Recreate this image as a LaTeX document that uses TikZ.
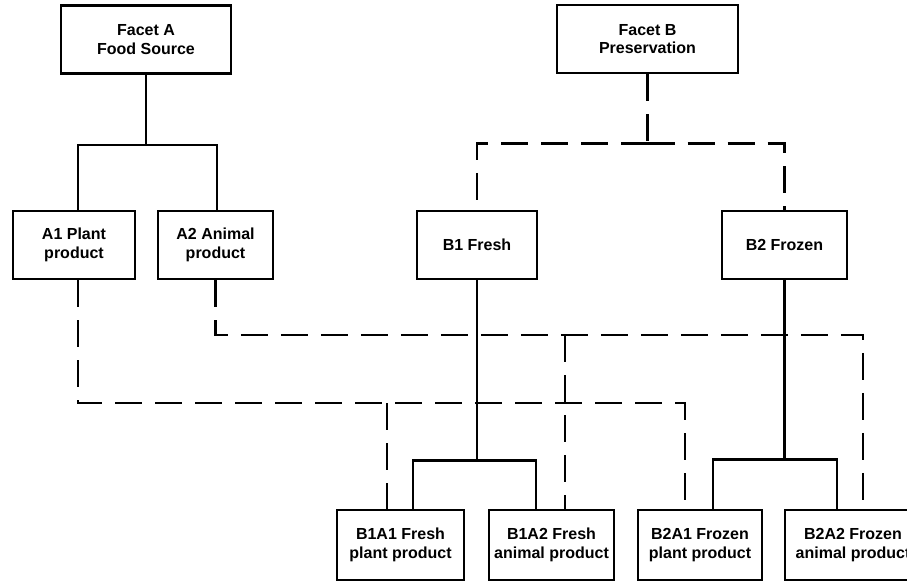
\documentclass[tikz,border=0pt]{standalone}
\usepackage{fontspec}
\setmainfont{Liberation Sans}
\begin{document}
\begin{tikzpicture}[x=1pt,y=-1pt,
  box/.style={draw, rectangle, line width=2.6pt, inner sep=0pt, align=center,
    minimum height=68pt, font=\bfseries\fontsize{16}{18.5}\selectfont},
  tree/.style={line width=2.5pt},
  link/.style={line width=2.5pt, dash pattern=on 27pt off 13pt}]
\useasboundingbox (0,0) rectangle (907,584);
\clip (0,0) rectangle (907,584);
\fill[white] (0,0) rectangle (907,584);

% facets
\node[box, minimum width=170pt] (FA) at (146,39.5) {Facet A\\Food Source};
\node[box, minimum width=181pt] (FB) at (647.5,39) {Facet B\\Preservation};

% first-level classes
\node[box, minimum width=122pt] (A1) at (74,245) {A1 Plant\\product};
\node[box, minimum width=115pt] (A2) at (215.5,245) {A2 Animal\\product};
\node[box, minimum width=120pt] (B1) at (477,245) {B1 Fresh};
\node[box, minimum width=125pt] (B2) at (784.5,245) {B2 Frozen};

% combined classes
\node[box, minimum width=127pt, minimum height=70pt] (B1A1) at (400.5,545) {B1A1 Fresh\\plant product};
\node[box, minimum width=125pt, minimum height=70pt] (B1A2) at (551.5,545) {B1A2 Fresh\\animal product};
\node[box, minimum width=124pt, minimum height=70pt] (B2A1) at (700,545) {B2A1 Frozen\\plant product};
\node[box, minimum width=136pt, minimum height=70pt] (B2A2) at (853,545) {B2A2 Frozen\\animal product};

% attachment points
\coordinate (a1t) at ([xshift=4pt]A1.north);
\coordinate (a1b) at ([xshift=4pt]A1.south);
\coordinate (a2t) at ([xshift=1.5pt]A2.north);
\coordinate (a2b) at (A2.south);
\coordinate (b11s) at ([xshift=12.5pt]B1A1.north);
\coordinate (b11d) at ([xshift=-13.5pt]B1A1.north);
\coordinate (b12s) at ([xshift=-15.5pt]B1A2.north);
\coordinate (b12d) at ([xshift=13.5pt]B1A2.north);
\coordinate (b21s) at ([xshift=13pt]B2A1.north);
\coordinate (b21d) at ([xshift=-15pt]B2A1.north);
\coordinate (b22s) at ([xshift=-16pt]B2A2.north);
\coordinate (b22d) at ([xshift=10pt]B2A2.north);
\coordinate (upY) at (0,335);
\coordinate (lowY) at (0,403);

% facet A hierarchy
\draw[tree] (FA.south) -- ++(0,70) coordinate (fA);
\draw[tree] (a1t) |- (fA) -| (a2t);

% facet B hierarchy
\draw[link] (FB.south) -- ++(0,69) coordinate (fB);
\draw[link] (fB) -| (B1.north);
\draw[link] (fB) -| (B2.north);

% subdivision of B1 and B2
\draw[tree] (B1.south) -- ++(0,180) coordinate (fB1);
\draw[tree] (b11s) |- (fB1) -| (b12s);
\draw[tree] (B2.south) -- ++(0,179) coordinate (fB2);
\draw[tree] (b21s) |- (fB2) -| (b22s);

% cross links from facet A classes
\draw[link] (a2b) -- (a2b |- upY) -- (b22d |- upY) -- (b22d);
\draw[link] (b12d |- upY) -- (b12d);
\draw[link] (a1b) -- (a1b |- lowY) -- (b21d |- lowY) -- (b21d);
\draw[link] (b11d |- lowY) -- (b11d);
\end{tikzpicture}
\end{document}
